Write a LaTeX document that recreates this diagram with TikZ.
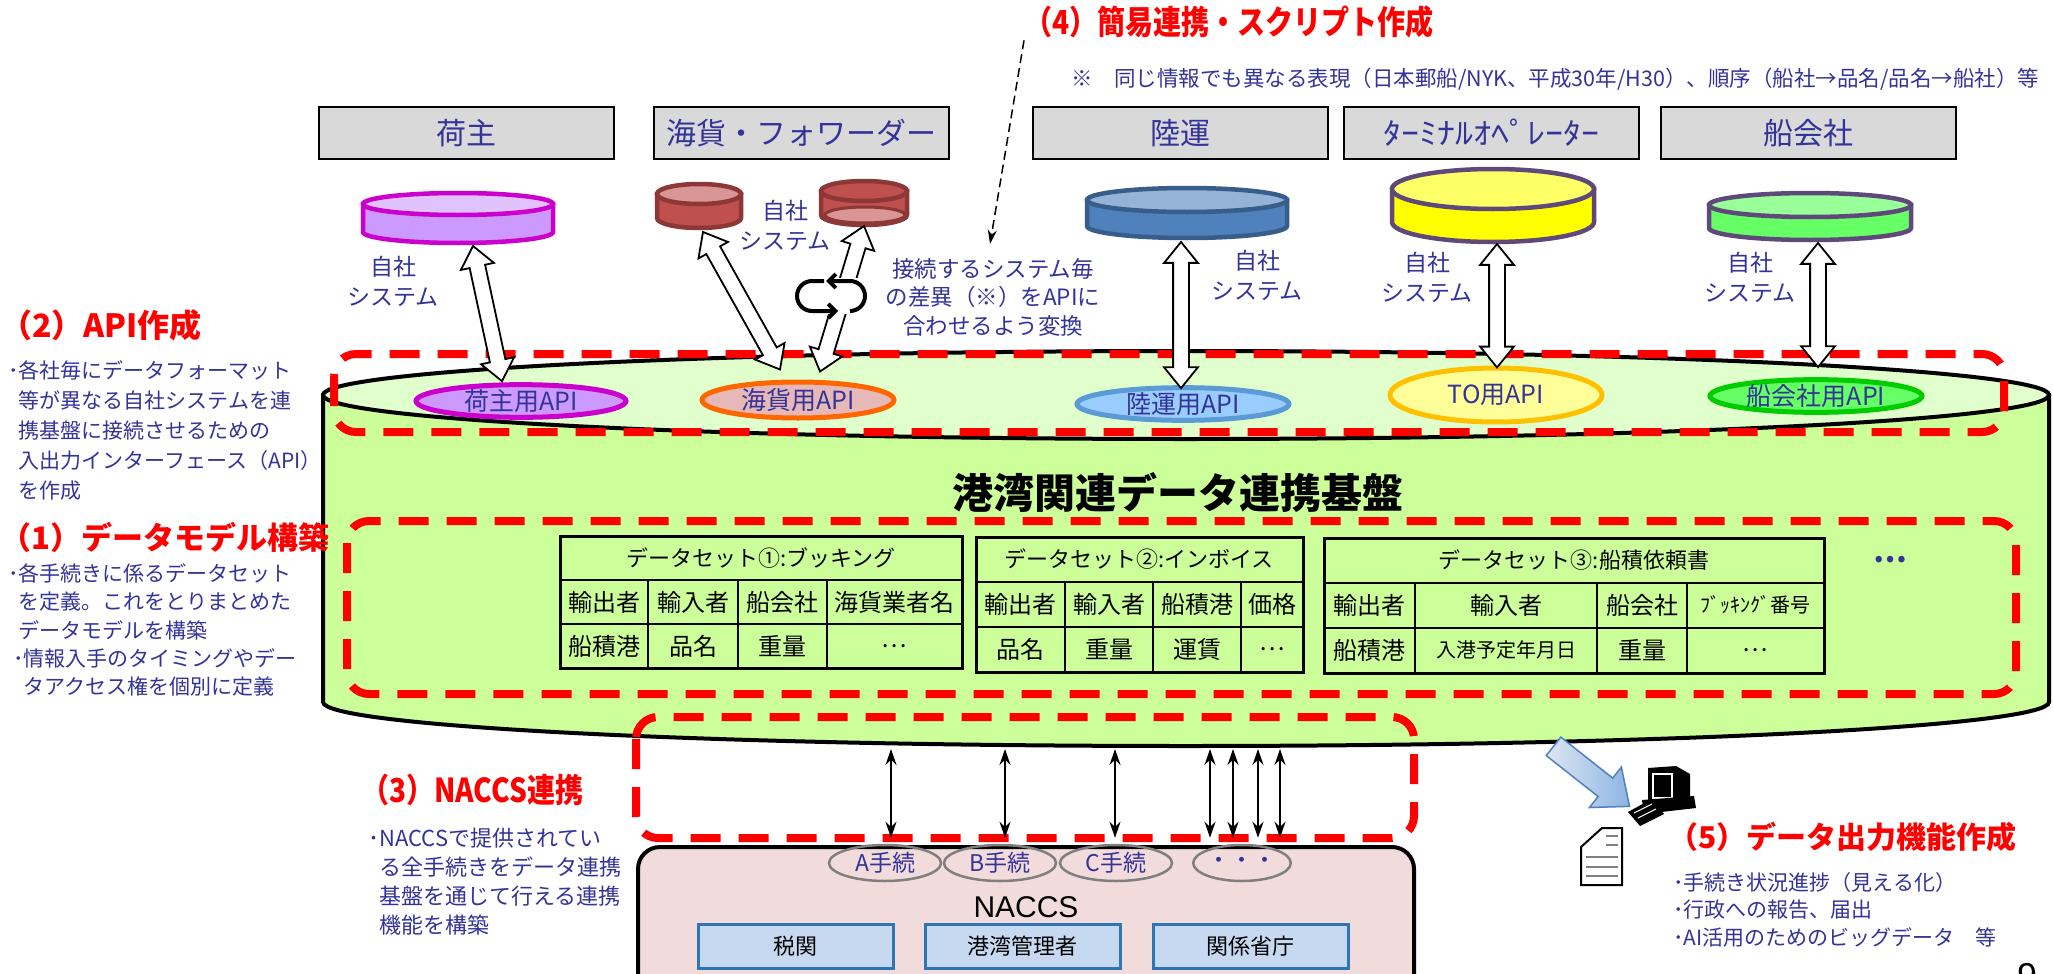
\documentclass[tikz,border=0pt]{standalone}
\usepackage{graphicx}
\usepackage{fontspec}
\setmainfont{Noto Sans CJK JP}
\newfontfamily\narrowfont[FakeStretch=0.85]{Noto Sans CJK JP}
\newfontfamily\arialfont{Liberation Sans}
\usepackage{tikz}
\usetikzlibrary{shapes.geometric, shapes.arrows, arrows.meta, positioning, calc}
\definecolor{textblue}{HTML}{333399}
\definecolor{alertred}{HTML}{FF0000}
\definecolor{boxgray}{HTML}{D9D9D9}
\definecolor{hubgreen}{HTML}{CCFF99}
\definecolor{hubtop}{HTML}{E0FFCC}
\definecolor{naccspink}{HTML}{F2DCDB}
\definecolor{officefill}{HTML}{C6D9F1}
\definecolor{officeedge}{HTML}{2E75B6}
\definecolor{procgray}{HTML}{7F7F7F}
\definecolor{outedge}{HTML}{4F81BD}
\definecolor{outlight}{HTML}{DCE6F2}
\definecolor{outdark}{HTML}{8DB4E2}
% disks of the company systems
\definecolor{shipEdge}{HTML}{CC00CC}
\definecolor{shipBody}{HTML}{CC99FF}
\definecolor{shipTop}{HTML}{E0C2FF}
\definecolor{fwdEdge}{HTML}{8C3836}
\definecolor{fwdBody}{HTML}{C0504D}
\definecolor{fwdTop}{HTML}{D99694}
\definecolor{truckEdge}{HTML}{385D8A}
\definecolor{truckBody}{HTML}{4F81BD}
\definecolor{truckTop}{HTML}{95B3D7}
\definecolor{termEdge}{HTML}{5F497A}
\definecolor{termBody}{HTML}{FFFF00}
\definecolor{termTop}{HTML}{FFFF66}
\definecolor{lineBody}{HTML}{66FF66}
\definecolor{lineTop}{HTML}{99FF99}
% API labels
\definecolor{apiShipFill}{HTML}{CC99FF}
\definecolor{apiShipEdge}{HTML}{CC00CC}
\definecolor{apiFwdFill}{HTML}{E6B9B8}
\definecolor{apiFwdEdge}{HTML}{FF6600}
\definecolor{apiTruckFill}{HTML}{99CCFF}
\definecolor{apiTruckEdge}{HTML}{5B9BD5}
\definecolor{apiTermFill}{HTML}{FFFF99}
\definecolor{apiTermEdge}{HTML}{FFC000}
\definecolor{apiLineFill}{HTML}{66FF66}
\definecolor{apiLineEdge}{HTML}{00CC00}

\newcommand\sz[2]{\fontsize{#1}{#2}\selectfont}

% disk: name, cx, cy, rx, ry, h, edge, body, top
\newcommand\diskdb[9]{%
  \draw[line width=4.5pt, draw=#7, fill=#8] (#2-#4,#3) -- ++(0,#6)
    arc[start angle=180, end angle=360, x radius=#4pt, y radius=#5pt] -- ++(0,-#6) -- cycle;
  \draw[line width=4.5pt, draw=#7, fill=#9] (#2,#3) ellipse[x radius=#4pt, y radius=#5pt];
  \coordinate (#1) at (#2,#3+#6+#5);}

% table grid: x0, x1, c1, c2, c3, y0, row height
\newcommand\gridtable[7]{%
  \draw[line width=1.5pt] (#1,#6+#7) -- (#2,#6+#7) (#1,#6+2*#7) -- (#2,#6+2*#7)
    (#3,#6+#7) -- (#3,#6+3*#7) (#4,#6+#7) -- (#4,#6+3*#7) (#5,#6+#7) -- (#5,#6+3*#7);
  \draw[line width=3pt] (#1,#6) rectangle (#2,#6+3*#7);}

% block arrow between two named points: style, from, to
\newcommand\fatlink[3]{%
  \path let \p1=(#2), \p2=(#3), \n1={atan2(\y2-\y1,\x2-\x1)}, \n2={veclen(\x2-\x1,\y2-\y1)}
    in node[#1, minimum height=\n2, rotate=\n1] at ($(\p1)!0.5!(\p2)$) {};}

\begin{document}
\begin{tikzpicture}[x=1pt, y=-1pt,
  partybox/.style={draw=black, fill=boxgray, line width=2pt, minimum width=295pt, minimum height=52pt, text=textblue, font=\sz{30}{36}},
  apilabel/.style={ellipse, line width=5pt, inner sep=0pt, text=textblue, font=\sz{25}{28}},
  blockarrow/.style={double arrow, draw=black, fill=white, line width=1.8pt, inner xsep=0pt, inner ysep=7pt, double arrow head extend=9pt, double arrow tip angle=78},
  outarrow/.style={single arrow, draw=outedge, line width=1.5pt, inner xsep=0pt, inner ysep=11pt, single arrow head extend=14pt, single arrow tip angle=80, left color=outlight, right color=outdark},
  redzone/.style={draw=alertred, line width=8pt, dash pattern=on 30pt off 18pt, rounded corners=22pt},
  bluetext/.style={text=textblue, inner sep=0pt},
  heading/.style={text=alertred, inner sep=0pt, font=\sz{30}{36}\bfseries},
  tcell/.style={inner sep=0pt, font=\sz{24}{28}},
  thinlink/.style={line width=2pt, <->, >={Stealth[length=16pt,width=11pt]}},
  office/.style={draw=officeedge, fill=officefill, line width=3pt, minimum width=195pt, minimum height=44pt, font=\sz{22}{26}},
  proc/.style={ellipse, draw=procgray, line width=2.5pt, minimum width=112pt, minimum height=36pt, inner sep=0pt, text=textblue, font=\sz{23}{26}}
]
\fill[white] (0,0) rectangle (2053,974);
\useasboundingbox (0,0) rectangle (2053,974);

% hub cylinder
\draw[line width=4pt, fill=hubgreen] (323,395) -- (323,702)
  arc[start angle=180, end angle=360, x radius=863pt, y radius=44pt] -- (2049,395) -- cycle;
\draw[line width=4pt, fill=hubtop] (1186,395) ellipse[x radius=863pt, y radius=44pt];
\node[font=\sz{41}{48}\bfseries, inner sep=0pt] (hubTitle) at (1178,493) {港湾関連データ連携基盤};

% API per company
\node[apilabel, draw=apiShipEdge, fill=apiShipFill, minimum width=210pt, minimum height=32pt] (apiShipper) at (521,401) {荷主用API};
\node[apilabel, draw=apiFwdEdge, fill=apiFwdFill, minimum width=192pt, minimum height=36pt] (apiFwd) at (798,400) {海貨用API};
\node[apilabel, draw=apiTruckEdge, fill=apiTruckFill, minimum width=212pt, minimum height=30pt] (apiTruck) at (1183,404) {陸運用API};
\node[apilabel, draw=apiTermEdge, fill=apiTermFill, minimum width=212pt, minimum height=54pt] (apiTerm) at (1496,395) {TO用API};
\node[apilabel, draw=apiLineEdge, fill=apiLineFill, minimum width=212pt, minimum height=32pt] (apiLine) at (1816,396) {船会社用API};

\draw[redzone] (334,354) rectangle (2004,432);
\draw[redzone] (347,521) rectangle (2016,694);

% data sets
\gridtable{560}{962}{648}{738}{827}{536}{44}
\node[tcell, font=\sz{22}{26}] at (761,558) {データセット①:ブッキング};
\foreach \txt/\xx/\yy in {輸出者/604/602, 輸入者/693/602, 船会社/782/602, 海貨業者名/894/602,
    船積港/604/646, 品名/693/646, 重量/782/646, …/894/646}
  \node[tcell] at (\xx,\yy) {\txt};

\gridtable{976}{1303}{1065}{1153}{1241}{537}{45}
\node[tcell, font=\sz{22}{26}] at (1139,559) {データセット②:インボイス};
\foreach \txt/\xx/\yy in {輸出者/1020/604, 輸入者/1109/604, 船積港/1197/604, 価格/1272/604,
    品名/1020/649, 重量/1109/649, 運賃/1197/649, …/1272/649}
  \node[tcell] at (\xx,\yy) {\txt};

\gridtable{1324}{1824}{1415}{1597}{1687}{538}{45}
\node[tcell, font=\sz{22}{26}] at (1574,560) {データセット③:船積依頼書};
\foreach \txt/\xx/\yy in {輸出者/1369/605, 輸入者/1506/605, 船会社/1642/605,
    船積港/1369/650, 重量/1642/650, …/1755/650}
  \node[tcell] at (\xx,\yy) {\txt};
\node[tcell, font=\sz{20}{24}] at (1755,605) {ﾌﾞｯｷﾝｸﾞ番号};
\node[tcell, font=\sz{20}{24}] at (1506,650) {入港予定年月日};
\node[bluetext, font=\sz{30}{34}\bfseries] at (1890,560) {…};

% company boxes
\node[partybox] (shipper) at (466,133) {荷主};
\node[partybox] (forwarder) at (801,133) {海貨・フォワーダー};
\node[partybox] (trucker) at (1180,133) {陸運};
\node[partybox] (terminal) at (1491,133) {\scalebox{1.2}[1]{ﾀｰﾐﾅﾙｵﾍﾟﾚｰﾀｰ}};
\node[partybox] (carrier) at (1808,133) {船会社};

% own systems
\diskdb{cylShip}{458}{204}{95}{11}{28}{shipEdge}{shipBody}{shipTop}
\diskdb{cylFwdA}{699}{194}{42}{10}{24}{fwdEdge}{fwdBody}{fwdTop}
\diskdb{cylFwdB}{864}{191}{43}{10}{24}{fwdEdge}{fwdBody}{fwdBody}
\draw[line width=3pt, draw=fwdEdge, fill=fwdTop] (865,215) ellipse[x radius=40pt, y radius=8pt];
\diskdb{cylTruck}{1187}{200}{100}{12}{26}{truckEdge}{truckBody}{truckTop}
\diskdb{cylTerm}{1493}{189}{101}{20}{33}{termEdge}{termBody}{termTop}
\diskdb{cylLine}{1810}{205}{101}{12}{23}{termEdge}{lineBody}{lineTop}

\node[bluetext, align=center, font=\sz{23}{30}] (ownShip) at (393,281) {自社\\システム};
\node[bluetext, align=center, font=\sz{23}{30}] (ownFwd) at (785,225) {自社\\システム};
\node[bluetext, align=center, font=\sz{23}{30}] (ownTruck) at (1257,275) {自社\\システム};
\node[bluetext, align=center, font=\sz{23}{30}] (ownTerm) at (1427,277) {自社\\システム};
\node[bluetext, align=center, font=\sz{23}{30}] (ownLine) at (1750,277) {自社\\システム};

% links between own systems and APIs
\coordinate (shipFrom) at ($(cylShip)+(15,3)$);
\coordinate (shipTo) at ($(apiShipper.north)+(-19,-1)$);
\coordinate (fwdFromA) at ($(cylFwdA)+(4,4)$);
\coordinate (fwdToA) at ($(apiFwd.north)+(-18,-10)$);
\coordinate (fwdFromB) at ($(cylFwdB)+(0,1)$);
\coordinate (fwdToB) at ($(apiFwd.north)+(22,-8)$);
\coordinate (truckFrom) at ($(cylTruck)+(-6,4)$);
\coordinate (truckTo) at ($(apiTruck.north)+(-2,3)$);
\coordinate (termFrom) at ($(cylTerm)+(4,2)$);
\coordinate (termTo) at ($(apiTerm.north)+(1,2)$);
\coordinate (lineFrom) at ($(cylLine)+(8,3)$);
\coordinate (lineTo) at ($(apiLine.north)+(2,-10)$);
\fatlink{blockarrow}{shipFrom}{shipTo}
\fatlink{blockarrow}{fwdFromA}{fwdToA}
\fatlink{blockarrow}{fwdFromB}{fwdToB}
\fatlink{blockarrow}{truckFrom}{truckTo}
\fatlink{blockarrow}{termFrom}{termTo}
\fatlink{blockarrow}{lineFrom}{lineTo}

% conversion loop on the forwarder link
\fill[white] (794,278) rectangle (868,314);
\draw[line width=4pt, -{Straight Barb[length=7pt,width=14pt]}] (824,281) -- (812,281)
  arc[start angle=90, end angle=270, radius=15pt] -- (838,311);
\draw[line width=4pt, -{Straight Barb[length=7pt,width=14pt]}] (850,311)
  arc[start angle=-90, end angle=90, radius=15pt] -- (826,281);

\node[bluetext, align=center, font=\sz{22.5}{28.5}] (convertNote) at (993,297)
  {接続するシステム毎\\の差異（※）をAPIに\\合わせるよう変換};

% script title and note
\node[heading, font=\narrowfont\sz{33}{38}\bfseries, anchor=west] (scriptHead) at (1024,22)
  {（4）簡易連携・スクリプト作成};
\node[bluetext, font=\sz{21.5}{26}, anchor=west] (diffNote) at (1071,79)
  {※　同じ情報でも異なる表現（日本郵船/NYK、平成30年/H30）、順序（船社→品名/品名→船社）等};
\coordinate (scriptFrom) at ($(scriptHead.south west)+(0,2)$);
\coordinate (scriptTo) at ($(convertNote.north)+(-3,-14)$);
\draw[line width=1.5pt, dash pattern=on 9pt off 5pt, -{Stealth[length=14pt,width=9pt]}] (scriptFrom) -- (scriptTo);

% left notes
\node[heading, font=\sz{32}{36}\bfseries, anchor=west] (apiHead) at (0,325) {（2）API作成};
\node[bluetext, anchor=north west, align=left, font=\sz{21}{30}] (apiNote) at (8,360)
  {･各社毎にデータフォーマット\\
   \hspace*{10.5pt}等が異なる自社システムを連\\
   \hspace*{10.5pt}携基盤に接続させるための\\
   \hspace*{10.5pt}入出力インターフェース（API）\\
   \hspace*{10.5pt}を作成};
\node[heading, font=\sz{31}{36}\bfseries, anchor=west] (modelHead) at (0,537) {（1）データモデル構築};
\node[bluetext, anchor=north west, align=left, font=\sz{21}{28.5}] (modelNote) at (8,563)
  {･各手続きに係るデータセット\\
   \hspace*{10.5pt}を定義。これをとりまとめた\\
   \hspace*{10.5pt}データモデルを構築};
\node[bluetext, anchor=north west, align=left, font=\sz{21}{28.5}] (accessNote) at (13,648)
  {･情報入手のタイミングやデー\\
   \hspace*{10pt}タアクセス権を個別に定義};

% NACCS
\draw[line width=4pt, fill=naccspink, rounded corners=22pt] (638,847) rectangle (1414,1000);
\node[font=\arialfont\sz{30}{34}, inner sep=0pt] (naccs) at (1026,907) {NACCS};
\node[office] (customs) at (795.5,946) {税関};
\node[office] (portAuth) at (1022.5,946) {港湾管理者};
\node[office] (ministry) at (1250.5,946) {関係省庁};
\node[proc] (procA) at (885,863) {A手続};
\node[proc] (procB) at (1000,863) {B手続};
\node[proc] (procC) at (1116,863) {C手続};
\node[proc, minimum width=88pt] (procD) at (1242,863) {・・・};
\draw[redzone] (636,717) rectangle (1414,838);

\foreach \nm/\xx in {A/891, B/1005, C/1115} {
  \coordinate (hub\nm) at (\xx,749);
  \draw[thinlink, shorten >=6pt] (hub\nm) -- (hub\nm |- proc\nm.north);
}
\foreach \xx in {1210,1233,1258,1280} {
  \coordinate (hubD) at (\xx,749);
  \draw[thinlink, shorten >=6pt] (hubD) -- (hubD |- procD.north);
}

\node[heading, font=\narrowfont\sz{33}{38}\bfseries, anchor=west] (naccsHead) at (361,790) {（3）NACCS連携};
\node[bluetext, anchor=north west, align=left, font=\sz{22}{29}] (naccsNote) at (368,828)
  {･NACCSで提供されてい\\
   \hspace*{11pt}る全手続きをデータ連携\\
   \hspace*{11pt}基盤を通じて行える連携\\
   \hspace*{11pt}機能を構築};

% data output
\coordinate (outFrom) at (1548,742);
\coordinate (outTo) at (1624,802);
\fatlink{outarrow}{outFrom}{outTo}

% terminal
\fill (1648,768) -- (1676,766) -- (1690,774) -- (1690,804) -- (1648,806) -- cycle;
\draw[white, line width=1.5pt] (1653,774) rectangle (1672,798);
\fill (1642,800) -- (1694,796) -- (1696,808) -- (1644,814) -- cycle;
\fill (1628,812) -- (1650,800) -- (1664,814) -- (1640,826) -- cycle;
\draw[white, line width=1pt] (1634,813) -- (1652,804) (1638,818) -- (1656,809);
% report sheet
\draw[line width=2pt, fill=white] (1602,828) -- (1622,828) -- (1622,885) -- (1581,885) -- (1581,847) -- cycle;
\draw[gray, line width=2pt] (1606,836) -- (1618,836) (1606,845) -- (1618,845)
  (1586,857) -- (1618,857) (1586,867) -- (1618,867) (1586,876) -- (1618,876);

\node[heading, anchor=west] (outHead) at (1668,837) {（5）データ出力機能作成};
\node[bluetext, anchor=north west, align=left, font=\sz{21}{27.5}] (outNote) at (1673,872)
  {･手続き状況進捗（見える化）\\
   ･行政への報告、届出\\
   ･AI活用のためのビッグデータ　等};

\node[font=\arialfont\sz{36}{40}, anchor=base, inner sep=0pt] (pageNo) at (2027,988) {9};
\end{tikzpicture}
\end{document}
